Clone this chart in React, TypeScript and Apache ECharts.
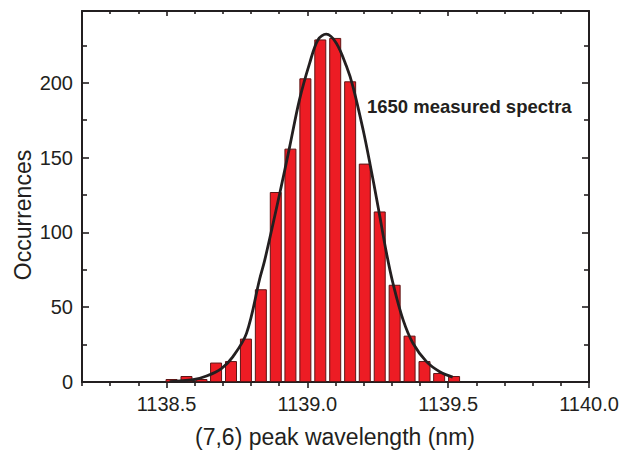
import React, { useEffect, useRef } from "react";
import * as echarts from "echarts";

// Histogram bins (bin centre in nm) and counts
const binCenters = [
  1138.518, 1138.571, 1138.624, 1138.676, 1138.729, 1138.782, 1138.835, 1138.888,
  1138.94, 1138.993, 1139.046, 1139.099, 1139.152, 1139.204, 1139.257, 1139.31,
  1139.363, 1139.416, 1139.468, 1139.521,
];
const counts = [2, 4, 2, 13, 14, 29, 62, 127, 156, 203, 229, 230, 201, 146, 114, 65, 31, 14, 6, 4];

// Fitted curve, points
const fitX = [
  1138.511, 1138.594, 1138.642, 1138.695, 1138.736, 1138.784, 1138.831, 1138.849,
  1138.902, 1138.937, 1138.972, 1139.008, 1139.038, 1139.067, 1139.103, 1139.139,
  1139.162, 1139.198, 1139.222, 1139.251, 1139.281, 1139.304, 1139.34, 1139.375,
  1139.423, 1139.47, 1139.516,
];
const fitY = [
  0.3, 1.5, 4, 9, 17, 32.5, 69, 81.6, 126, 157, 188.6, 213, 228.8, 232.5, 226.5, 211,
  197.5, 168.6, 146.3, 117.3, 86.2, 66, 41.5, 25.9, 13.6, 6.9, 3.3,
];

const xMajorTicks = [1138.5, 1139.0, 1139.5, 1140.0];
const xMinorTicks = [
  1138.2, 1138.3, 1138.4, 1138.6, 1138.7, 1138.8, 1138.9, 1139.1, 1139.2, 1139.3,
  1139.4, 1139.6, 1139.7, 1139.8, 1139.9,
];
const yMajorTicks = [0, 50, 100, 150, 200];
const yMinorTicks = [25, 75, 125, 175, 225];

const X_MIN = 1138.2;
const X_MAX = 1140.0;
const Y_MIN = 0;
const Y_MAX = 248;

const INK = "#231f20";
const FONT = "'Liberation Sans', Arial, Helvetica, sans-serif";

function xAxisDef(position: "bottom" | "top", ticks: number[], len: number, inside: boolean, line: boolean, labels: boolean) {
  return {
    type: "value",
    position,
    min: X_MIN,
    max: X_MAX,
    axisLine: { show: line, onZero: false, lineStyle: { color: INK, width: 2 } },
    axisTick: { show: true, customValues: ticks, length: len, inside, lineStyle: { color: INK, width: 1.6 } },
    axisLabel: labels
      ? { show: true, customValues: ticks, formatter: (v: number) => v.toFixed(1), fontSize: 20, color: INK, fontFamily: FONT, margin: 12 }
      : { show: false },
    splitLine: { show: false },
  };
}

function yAxisDef(position: "left" | "right", ticks: number[], len: number, line: boolean, labels: boolean) {
  return {
    type: "value",
    position,
    min: Y_MIN,
    max: Y_MAX,
    axisLine: { show: line, onZero: false, lineStyle: { color: INK, width: 2 } },
    axisTick: { show: true, customValues: ticks, length: len, inside: true, lineStyle: { color: INK, width: 1.6 } },
    axisLabel: labels
      ? { show: true, customValues: ticks, fontSize: 20, color: INK, fontFamily: FONT, margin: 9 }
      : { show: false },
    splitLine: { show: false },
  };
}

export default function App() {
  const ref = useRef<HTMLDivElement>(null);

  useEffect(() => {
    if (!ref.current) return;
    const chart = echarts.init(ref.current, undefined, { renderer: "svg" });
    chart.setOption({
      animation: false,
      backgroundColor: "#ffffff",
      grid: { left: 82, right: 32, top: 11, bottom: 69, containLabel: false, outerBoundsMode: "none" },
      xAxis: [
        xAxisDef("bottom", xMajorTicks, 6, false, true, true),
        xAxisDef("bottom", xMinorTicks, 4, false, false, false),
        xAxisDef("top", xMajorTicks, 5, true, true, false),
        xAxisDef("top", xMinorTicks, 3, true, false, false),
      ],
      yAxis: [
        yAxisDef("left", yMajorTicks, 7, true, true),
        yAxisDef("left", yMinorTicks, 5, false, false),
        yAxisDef("right", yMajorTicks, 7, true, false),
        yAxisDef("right", yMinorTicks, 5, false, false),
      ],
      series: [
        {
          type: "bar",
          xAxisIndex: 0,
          yAxisIndex: 0,
          data: binCenters.map((x, i) => [x, counts[i]]),
          barWidth: 12,
          itemStyle: { color: "#ed1c24", borderColor: "#5e1515", borderWidth: 1 },
          z: 2,
        },
        {
          type: "line",
          xAxisIndex: 0,
          yAxisIndex: 0,
          data: fitX.map((x, i) => [x, fitY[i]]),
          smooth: 0.35,
          showSymbol: false,
          symbol: "none",
          lineStyle: { color: INK, width: 2.8 },
          z: 3,
        },
      ],
      graphic: [
        {
          type: "text",
          x: 23,
          y: 215,
          rotation: Math.PI / 2,
          style: { text: "Occurrences", fontSize: 23, fontFamily: FONT, fill: INK, align: "center", verticalAlign: "middle" },
        },
        {
          type: "text",
          x: 335,
          y: 437,
          style: { text: "(7,6) peak wavelength (nm)", fontSize: 23, fontFamily: FONT, fill: INK, align: "center", verticalAlign: "middle" },
        },
        {
          type: "text",
          x: 367,
          y: 106,
          style: { text: "1650 measured spectra", fontSize: 18.5, fontWeight: "bold", fontFamily: FONT, fill: INK, align: "left", verticalAlign: "middle" },
        },
      ],
    });
    return () => chart.dispose();
  }, []);

  return <div ref={ref} style={{ position: "fixed", left: 0, top: 0, width: 621, height: 451 }} />;
}
